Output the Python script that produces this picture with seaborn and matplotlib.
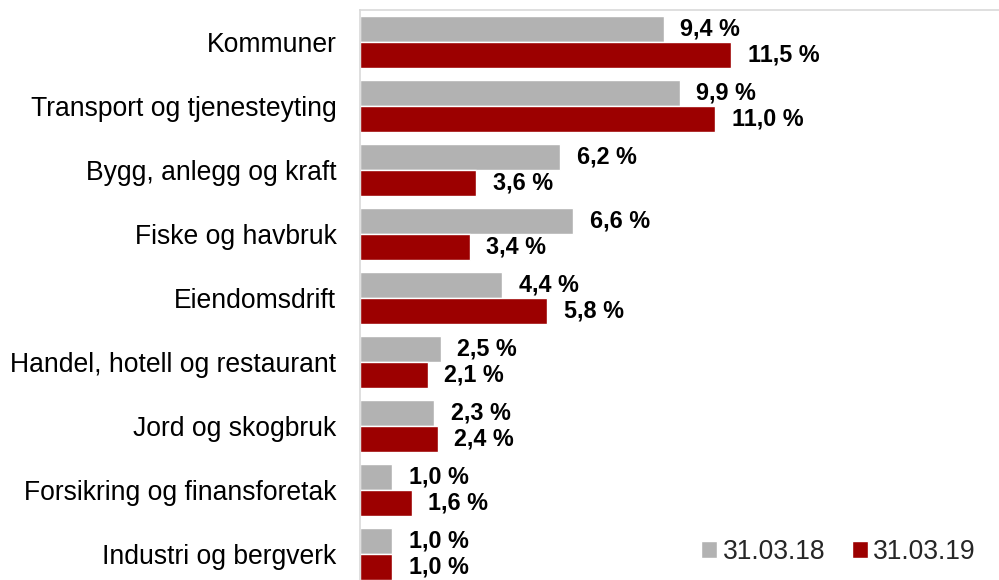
import matplotlib
matplotlib.use("Agg")
import matplotlib.pyplot as plt
import seaborn as sns
import pandas as pd
from matplotlib.patches import Patch

categories = ["Kommuner", "Transport og tjenesteyting", "Bygg, anlegg og kraft",
              "Fiske og havbruk", "Eiendomsdrift", "Handel, hotell og restaurant",
              "Jord og skogbruk", "Forsikring og finansforetak", "Industri og bergverk"]
v2018 = [9.4, 9.9, 6.2, 6.6, 4.4, 2.5, 2.3, 1.0, 1.0]
v2019 = [11.5, 11.0, 3.6, 3.4, 5.8, 2.1, 2.4, 1.6, 1.0]
series = ["31.03.18", "31.03.19"]
colors = ["#b2b2b2", "#9c0000"]

df = pd.DataFrame({
    "cat": categories * 2,
    "val": v2018 + v2019,
    "ser": [series[0]] * len(categories) + [series[1]] * len(categories),
})

sns.set_theme(style="white")
plt.rcParams["font.family"] = ["Liberation Sans", "DejaVu Sans"]

fig = plt.figure(figsize=(9.99, 5.8), dpi=100)
ax = fig.add_axes([360 / 999, -6 / 580, 639 / 999, 576 / 580])
sns.barplot(data=df, x="val", y="cat", hue="ser", orient="h", palette=colors,
            width=0.8, ax=ax, legend=False, saturation=1, errorbar=None)

ax.set_xlim(0, 639 / 32.3)
ax.set_ylim(8.5, -0.5)
ax.set_xlabel("")
ax.set_ylabel("")
ax.set_xticks([])
ax.tick_params(axis="y", length=0, pad=17, labelsize=19.1)
for lab in ax.get_yticklabels():
    lab.set_color("#000000")

for c in ax.containers:
    labels = [f"{v:.1f} %".replace(".", ",") for v in c.datavalues]
    ax.bar_label(c, labels=labels, padding=12, fontsize=16.8, fontweight="bold", color="#000000")

for s in ["right", "bottom"]:
    ax.spines[s].set_visible(False)
for s in ["left", "top"]:
    ax.spines[s].set_color("#d9d9d9")
    ax.spines[s].set_linewidth(1.2)

handles = [Patch(facecolor=colors[0]), Patch(facecolor=colors[1])]
fig.legend(handles, series, loc="center left", bbox_to_anchor=(688 / 999, 1 - 552 / 580),
           frameon=False, fontsize=19.1, handlelength=0.6, handleheight=0.6,
           handletextpad=0.2, columnspacing=1.0, ncol=2, borderpad=0)

fig.savefig("out.png", dpi=100)
